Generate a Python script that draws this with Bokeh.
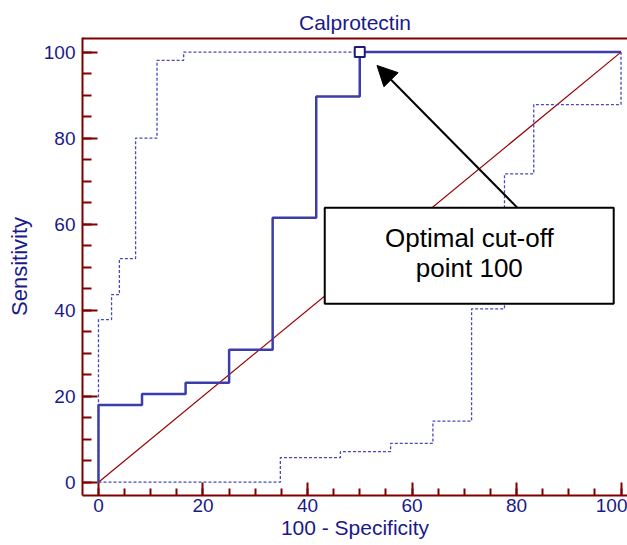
from bokeh.plotting import figure
from bokeh.models import (Range1d, Arrow, NormalHead, Span,
                          Label, BoxAnnotation, SingleIntervalTicker)
from bokeh.embed import file_html
from bokeh.resources import INLINE

# ROC curve (100 - Specificity, Sensitivity) step vertices
roc_x = [0, 0, 8.33, 16.67, 25, 33.33, 41.67, 50, 100]
roc_y = [0, 17.95, 20.5, 23.1, 30.8, 61.5, 89.7, 100, 100]

# upper confidence bound
upper_x = [0, 0, 2.5, 4.0, 7.1, 11.2, 16.3, 100]
upper_y = [0, 37.8, 43.6, 52.0, 80.0, 98.1, 100, 100]

# lower confidence bound
lower_x = [0, 34.8, 46.3, 55.9, 64.0, 71.4, 77.7, 83.3, 100]
lower_y = [0, 5.7, 7.1, 9.0, 14.2, 40.3, 71.7, 87.8, 100]

# reference diagonal
diag_x = [0, 100]
diag_y = [0, 100]

# optimal cut-off point
opt_x = [50]
opt_y = [100]

x_ticks_interval = 20
y_ticks_interval = 20

AXIS = "#800000"
NAVY = "#1a1a8a"
LINE = "#3c3caa"
DASH = "#4848b8"
FONT = "Liberation Sans"

X0, X1 = -3.06, 101.24
Y0, Y1 = -3.1, 103.4

p = figure(width=627, height=545,
           x_range=Range1d(X0, X1), y_range=Range1d(Y0, Y1),
           output_backend="svg", toolbar_location=None,
           min_border_left=82, min_border_right=0, min_border_top=37,
           min_border_bottom=50)
p.outline_line_color = None
p.grid.visible = False
p.background_fill_color = "white"
p.border_fill_color = "white"

p.title.text = "Calprotectin"
p.title.align = "center"
p.title.text_font = FONT
p.title.text_font_size = "21px"
p.title.text_font_style = "normal"
p.title.text_color = NAVY
p.title.standoff = 7

for ax, iv in ((p.xaxis[0], x_ticks_interval), (p.yaxis[0], y_ticks_interval)):
    ax.ticker = SingleIntervalTicker(interval=iv, num_minor_ticks=4)
    ax.axis_line_color = AXIS
    ax.axis_line_width = 2
    ax.major_tick_line_color = AXIS
    ax.minor_tick_line_color = AXIS
    ax.major_tick_line_width = 2
    ax.minor_tick_line_width = 2
    ax.major_tick_out = 0
    ax.minor_tick_out = 0
    ax.major_label_text_font = FONT
    ax.major_label_text_font_size = "19px"
    ax.major_label_text_color = NAVY
    ax.axis_label_text_font = FONT
    ax.axis_label_text_font_style = "normal"
    ax.axis_label_text_color = NAVY

p.xaxis.major_tick_in = 13
p.xaxis.minor_tick_in = 7
p.yaxis.major_tick_in = 15
p.yaxis.minor_tick_in = 9
p.xaxis.axis_label = "100 - Specificity"
p.yaxis.axis_label = "Sensitivity"
p.xaxis.axis_label_text_font_size = "21px"
p.yaxis.axis_label_text_font_size = "22px"
p.xaxis.major_label_standoff = 3
p.yaxis.major_label_standoff = 7
p.xaxis.axis_label_standoff = 1
p.yaxis.axis_label_standoff = 9

# top frame line
p.add_layout(Span(location=Y1, dimension="width", line_color=AXIS, line_width=4))

p.line(diag_x, diag_y, line_color="#990000", line_width=1.2)
p.step(upper_x, upper_y, mode="after", line_color=DASH, line_width=1.3,
       line_dash="3 2")
p.step(lower_x, lower_y, mode="after", line_color=DASH, line_width=1.3,
       line_dash="3 2")
p.step(roc_x, roc_y, mode="after", line_color=LINE, line_width=2.5)
p.scatter(opt_x, opt_y, marker="square", size=10, fill_color="white",
          line_color="#1a1a80", line_width=2)

box = BoxAnnotation(left=43.3, right=98.6, bottom=41.5, top=63.8,
                    fill_color="white", fill_alpha=1.0, line_color="black",
                    line_alpha=1.0, line_width=2)
p.add_layout(box)
p.add_layout(Label(x=70.97, y=56.8, text="Optimal cut-off", text_align="center",
                   text_baseline="middle", text_font=FONT,
                   text_font_size="26px", text_color="black"))
p.add_layout(Label(x=70.97, y=49.8, text="point 100", text_align="center",
                   text_baseline="middle", text_font=FONT,
                   text_font_size="26px", text_color="black"))
p.add_layout(Arrow(end=NormalHead(size=20, fill_color="black", line_color="black"),
                   x_start=80.1, y_start=63.9, x_end=53.3, y_end=96.9,
                   line_width=2, line_color="black"))

open("out.html", "w").write(file_html(p, INLINE))
